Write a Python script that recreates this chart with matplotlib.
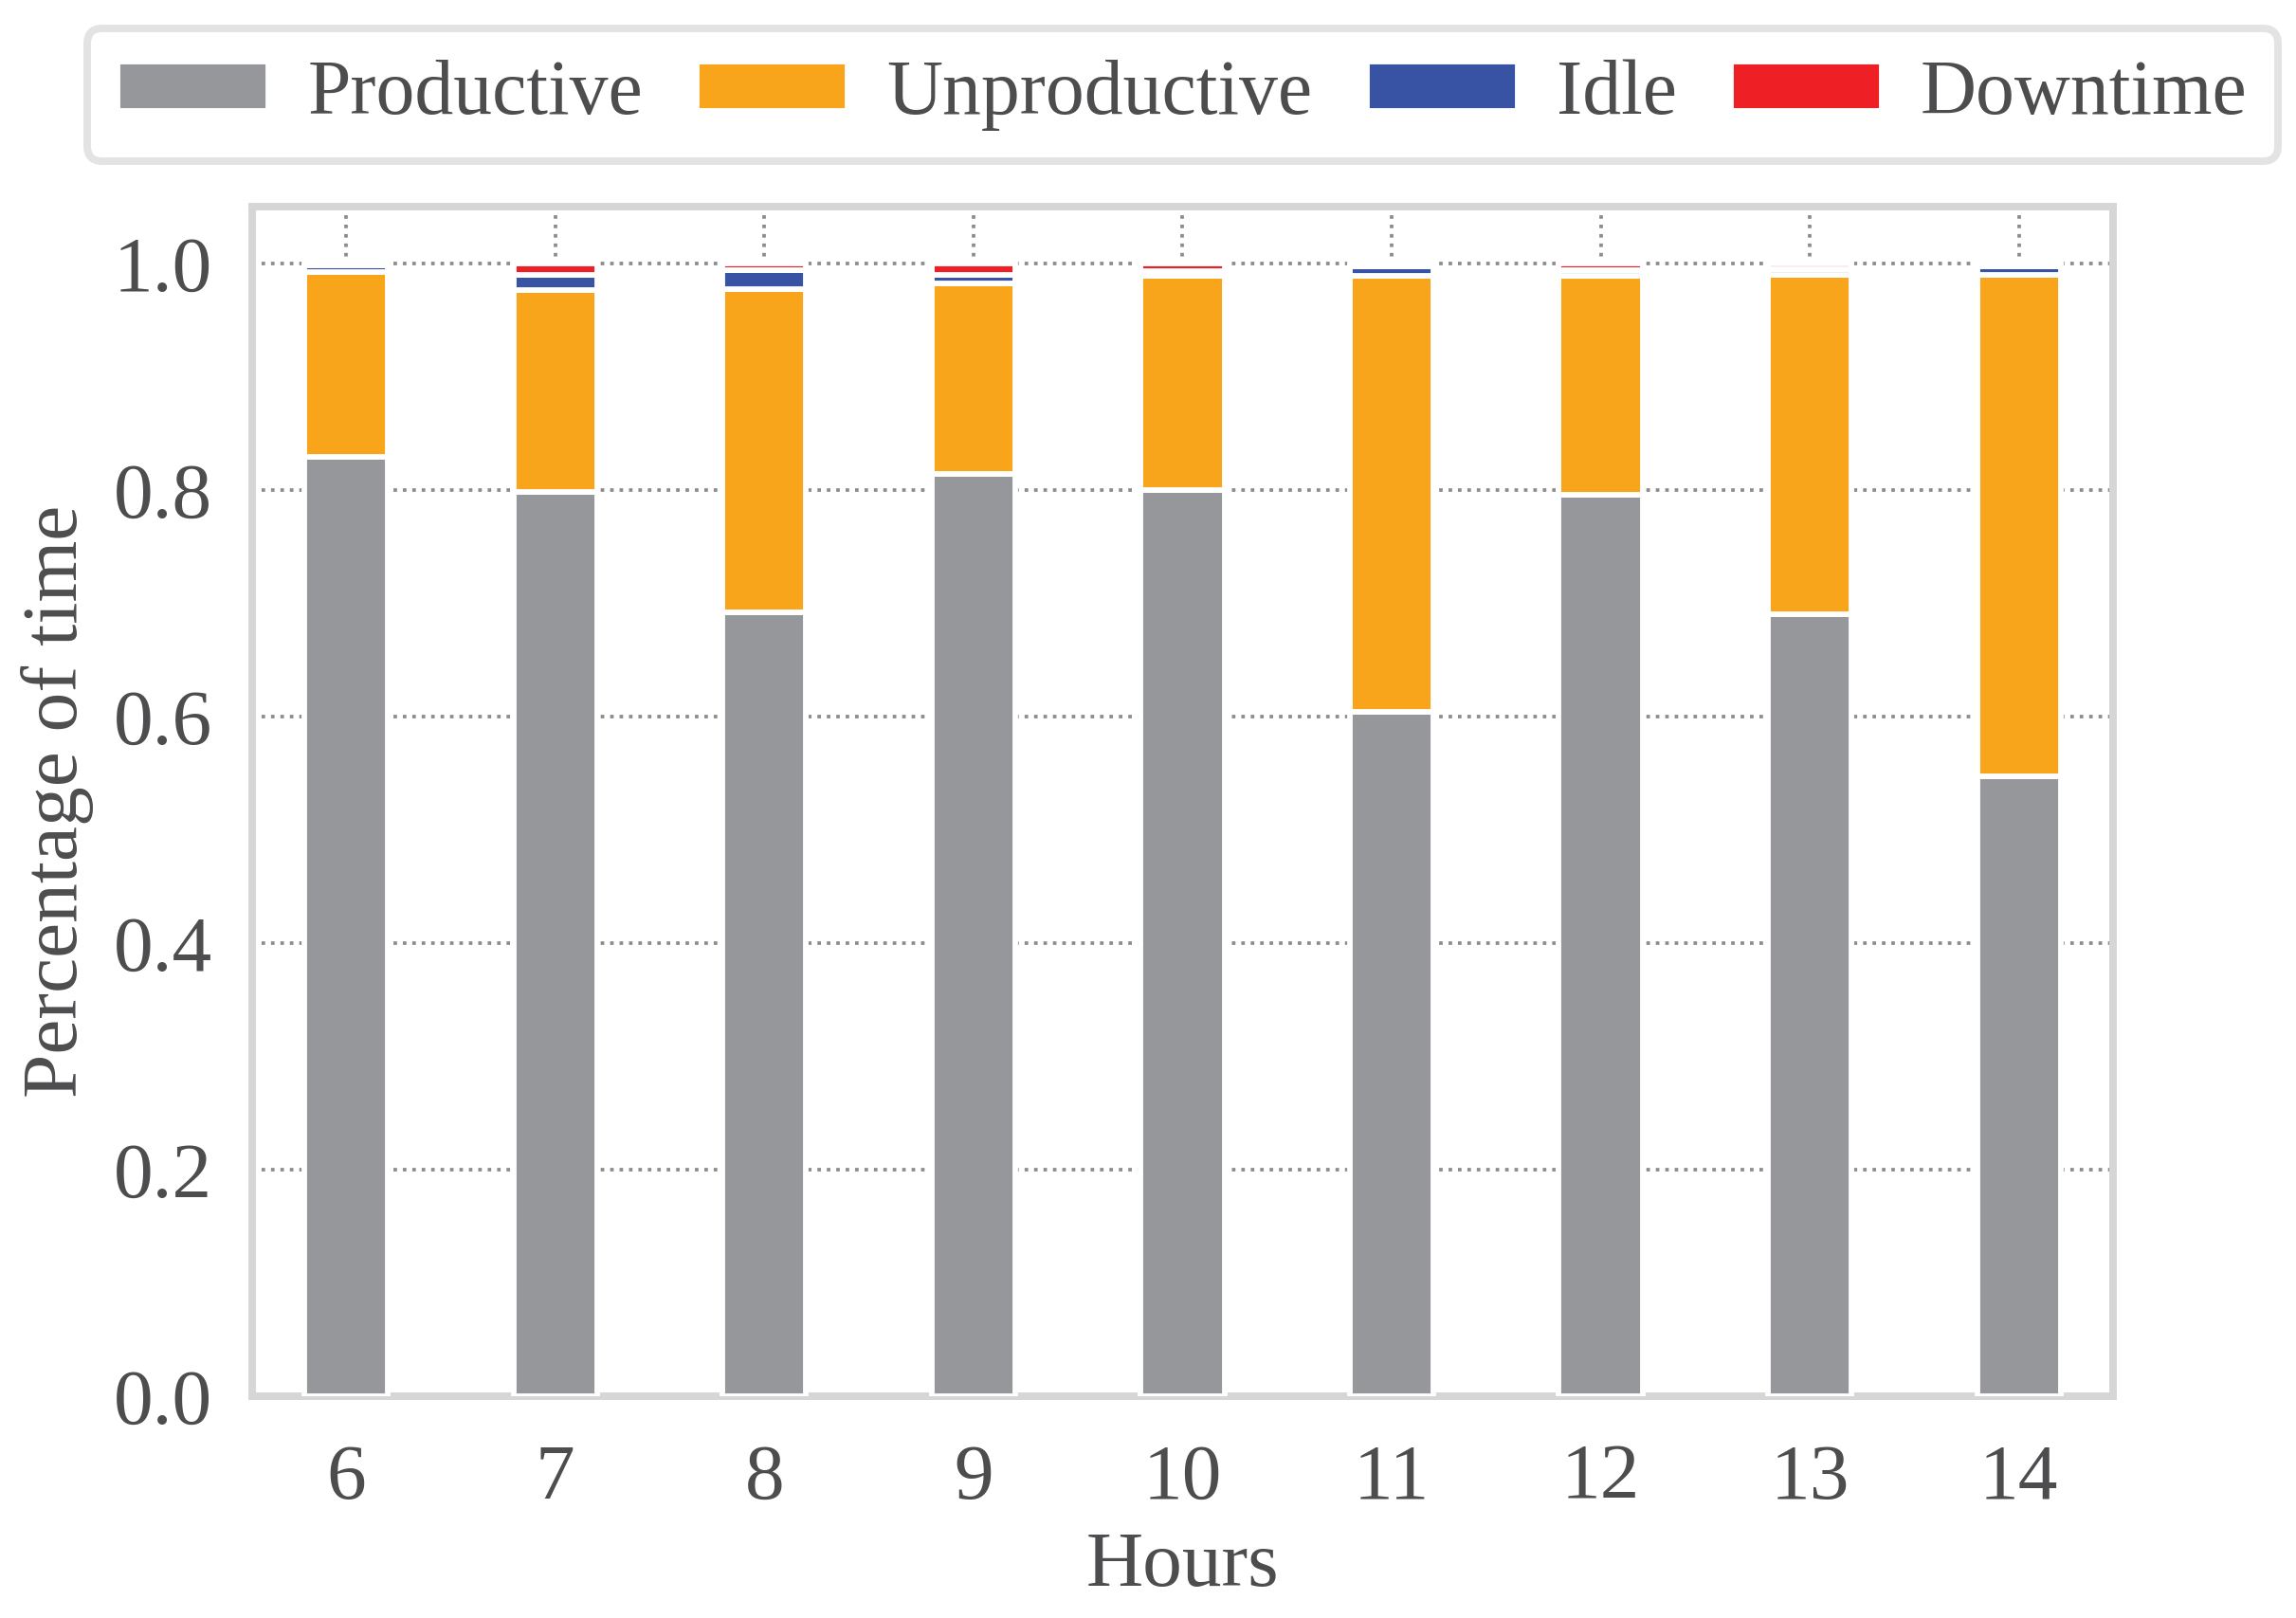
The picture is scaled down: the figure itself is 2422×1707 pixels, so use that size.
import numpy as np
import matplotlib
matplotlib.use('Agg')
import matplotlib.pyplot as plt

# Data
hours = [6, 7, 8, 9, 10, 11, 12, 13, 14]
productive = [0.829, 0.798, 0.692, 0.814, 0.800, 0.604, 0.796, 0.690, 0.547]
unproductive = [0.163, 0.178, 0.285, 0.168, 0.189, 0.385, 0.193, 0.2995, 0.443]
idle = [0.0065, 0.014, 0.017, 0.008, 0.004, 0.008, 0.005, 0.005, 0.007]
downtime = [0.0015, 0.010, 0.006, 0.010, 0.007, 0.003, 0.006, 0.0055, 0.003]

labels = ['Productive', 'Unproductive', 'Idle', 'Downtime']
colors = ['#96979b', '#f9a51b', '#3953a4', '#ee1f25']
text_color = '#4d4d4f'

plt.rcParams['font.family'] = ['Liberation Serif', 'DejaVu Serif']
plt.rcParams['font.size'] = 20

fig = plt.figure(figsize=(2422 / 300, 1707 / 300), dpi=300)
ax = fig.add_axes([0.1098, 0.137, 0.8105, 0.7353])

# stacked bars
bottom = np.zeros(len(hours))
for vals, lab, col in zip([productive, unproductive, idle, downtime], labels, colors):
    ax.bar(hours, vals, width=0.4, bottom=bottom, color=col, edgecolor='white',
           linewidth=1.4, label=lab, zorder=3)
    bottom += np.array(vals)

ax.set_xlim(5.55, 14.45)
ax.set_ylim(0, 1.05)
ax.set_xticks(hours)
ax.set_yticks([0.0, 0.2, 0.4, 0.6, 0.8, 1.0])
ax.set_yticklabels(['0.0', '0.2', '0.4', '0.6', '0.8', '1.0'])

ax.grid(True, linestyle=':', color='#8c8c8c', linewidth=0.9, zorder=0)
ax.set_axisbelow(True)

for sp in ax.spines.values():
    sp.set_color('#d6d6d6')
    sp.set_linewidth(1.9)

ax.tick_params(axis='both', length=0, colors=text_color, labelsize=20)
ax.tick_params(axis='y', pad=10)
ax.tick_params(axis='x', pad=12)

ax.set_xlabel('Hours', color=text_color, fontsize=20, labelpad=4)
ax.set_ylabel('Percentage of time', color=text_color, fontsize=20, labelpad=5)

# legend centred over the axes
leg = ax.legend(loc='center', bbox_to_anchor=(0.5, 1.094), ncol=4, frameon=True,
                fancybox=True, fontsize=19.6,
                handlelength=1.95, handleheight=0.6, handletextpad=0.5,
                columnspacing=0.7, borderpad=0.4)
leg.get_frame().set_edgecolor('#dcdcdc')
leg.get_frame().set_linewidth(1.9)
for t in leg.get_texts():
    t.set_color(text_color)

fig.savefig('out.png', dpi=300, facecolor='white')
